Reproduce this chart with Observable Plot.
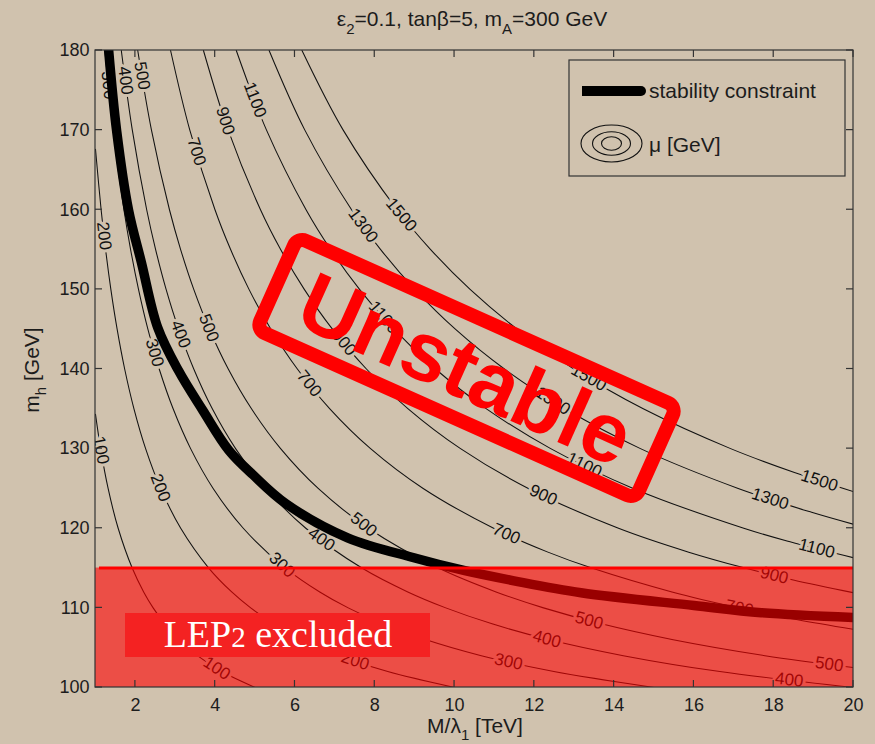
<!DOCTYPE html>
<html><head><meta charset="utf-8">
<script src="https://cdn.jsdelivr.net/npm/d3@7"></script>
<script src="https://cdn.jsdelivr.net/npm/@observablehq/plot@0.6"></script>
<style>html,body{margin:0;padding:0;background:#D0C2AE;overflow:hidden;} svg{display:block;}</style>
</head><body>
<script>
// ---- data ----
const levels = [100, 200, 300, 400, 500, 700, 900, 1100, 1300, 1500];
// contour polylines: [M/λ1 (TeV), m_h (GeV)]
const contour100 = [[1.000,134.3],[1.128,130],[1.316,125],[1.568,120],[1.920,115],[2.207,112],[2.445,110],[2.735,108],[3.096,106],[3.556,104],[4.163,102],[5.000,100]];
const contour200 = [[1.000,167.6],[1.141,160],[1.253,155],[1.385,150],[1.542,145],[1.731,140],[1.964,135],[2.256,130],[2.633,125],[3.136,120],[3.839,115],[4.414,112],[4.890,110],[5.470,108],[6.192,106],[7.112,104],[8.326,102],[10.00,100]];
const contour300 = [[1.235,180],[1.442,170],[1.712,160],[1.880,155],[2.078,150],[2.313,145],[2.597,140],[2.946,135],[3.384,130],[3.949,125],[4.704,120],[5.759,115],[6.621,112],[7.335,110],[8.206,108],[9.288,106],[10.67,104],[12.49,102],[15.00,100]];
const contour400 = [[1.647,180],[1.923,170],[2.283,160],[2.507,155],[2.770,150],[3.084,145],[3.463,140],[3.928,135],[4.512,130],[5.265,125],[6.272,120],[7.679,115],[8.828,112],[9.780,110],[10.94,108],[12.38,106],[14.23,104],[16.65,102],[20.00,100]];
const contour500 = [[2.059,180],[2.403,170],[2.854,160],[3.134,155],[3.463,150],[3.855,145],[4.328,140],[4.910,135],[5.640,130],[6.582,125],[7.839,120],[9.599,115],[11.04,112],[12.23,110],[13.68,108],[15.48,106],[17.78,104],[20.00,102.5]];
const contour700 = [[2.882,180],[3.364,170],[3.995,160],[4.387,155],[4.848,150],[5.397,145],[6.060,140],[6.874,135],[7.895,130],[9.214,125],[10.98,120],[12.34,117],[13.44,115],[15.45,112],[17.12,110],[18.60,108.5],[20.00,107.3]];
const contour900 = [[3.706,180],[4.326,170],[5.136,160],[5.641,155],[6.234,150],[6.939,145],[7.791,140],[8.837,135],[10.15,130],[11.85,125],[14.11,120],[15.87,117],[17.28,115],[18.49,113.5],[20.00,111.9]];
const contour1100 = [[4.529,180],[5.287,170],[6.278,160],[6.894,155],[7.619,150],[8.481,145],[9.522,140],[10.80,135],[12.41,130],[14.48,125],[17.25,120],[18.41,118.3],[20.00,116.3]];
const contour1300 = [[5.352,180],[6.248,170],[7.419,160],[8.148,155],[9.004,150],[10.02,145],[11.25,140],[12.77,135],[14.66,130],[17.11,125],[18.95,122],[20.00,120.5]];
const contour1500 = [[6.176,180],[7.209,170],[8.561,160],[9.401,155],[10.39,150],[11.57,145],[12.99,140],[14.73,135],[16.92,130],[18.52,127],[20.00,124.6]];
const contours = {100: contour100, 200: contour200, 300: contour300, 400: contour400, 500: contour500,
  700: contour700, 900: contour900, 1100: contour1100, 1300: contour1300, 1500: contour1500};
// stability constraint
const stability = [[1.33,180],[1.53,169.9],[1.83,159.9],[2.15,153.4],[2.56,145.2],[3.08,139.8],[3.69,134.8],[4.34,129.8],[4.95,126.7],[5.77,123.1],[7.32,118.8],[8.98,116.3],[10.23,114.7],[11.49,113.4],[13.17,111.9],[16.0,110.3],[17.69,109.4],[20.0,108.8]];
// contour label spots: [level, M/λ1, m_h]
const labelSpots = [
  [100,1.13,129.8],[100,4.04,102.4],
  [200,1.2,156.7],[200,2.58,125],[200,7.5,103.2],
  [300,1.25,175.6],[300,2.46,142],[300,5.64,115.2],[300,11.36,103.4],
  [400,1.73,176.2],[400,3.1,144.3],[400,6.65,118.5],[400,12.32,106.2],[400,18.39,100.9],
  [500,2.13,176.8],[500,3.81,145.1],[500,7.7,120.3],[500,13.37,108.4],[500,19.39,102.9],
  [700,3.48,167.2],[700,6.29,137.9],[700,11.29,119.2],[700,17.14,109.9],
  [900,4.21,171.1],[900,7.22,143.3],[900,12.22,124.1],[900,18.01,114],
  [1100,4.94,173.7],[1100,8.23,146.5],[1100,13.25,127.9],[1100,19.07,117.3],
  [1300,7.7,158],[1300,12.42,135.7],[1300,17.89,123.4],
  [1500,8.65,159.3],[1500,13.35,138.8],[1500,19.19,126.7]
];
const xTicks = [2, 4, 6, 8, 10, 12, 14, 16, 18, 20];
const yTicks = [100, 110, 120, 130, 140, 150, 160, 170, 180];
const lepLimit = 115;

// ---- layout / style ----
const bg = "#D0C2AE";
const W = 875, H = 744, mL = 95, mR = 22, mT = 50, mB = 57;
const xs = d3.scaleLinear([1, 20], [mL, W - mR]);
const ys = d3.scaleLinear([100, 180], [H - mB, mT]);
const sans = "'Liberation Sans', Arial, Helvetica, sans-serif";

const lineRows = levels.flatMap(l => contours[l].map(([x, y]) => ({level: l, x, y})));
const labelRows = labelSpots.map(([l, x, y]) => {
  const pts = contours[l].map(([a, b]) => [xs(a), ys(b)]);
  const px = xs(x), py = ys(y);
  let best = null;
  for (let i = 0; i < pts.length - 1; i++) {
    const [x0, y0] = pts[i], [x1, y1] = pts[i + 1];
    const dx = x1 - x0, dy = y1 - y0, L2 = dx * dx + dy * dy;
    let t = ((px - x0) * dx + (py - y0) * dy) / L2;
    t = Math.max(0, Math.min(1, t));
    const qx = x0 + t * dx, qy = y0 + t * dy, d = (qx - px) ** 2 + (qy - py) ** 2;
    if (!best || d < best.d) best = {d, qx, qy, ang: Math.atan2(dy, dx) * 180 / Math.PI};
  }
  let a = best.ang; if (a > 90) a -= 180; if (a < -90) a += 180;
  return {x: xs.invert(best.qx), y: ys.invert(best.qy), rotate: a, text: String(l)};
});

const plot = Plot.plot({
  width: W, height: H, marginLeft: mL, marginRight: mR, marginTop: mT, marginBottom: mB,
  x: {domain: [1, 20]}, y: {domain: [100, 180]},
  style: {background: bg, fontFamily: sans, color: "#1c1c1c"},
  marks: [
    Plot.line(lineRows, {x: "x", y: "y", z: "level", stroke: "#111", strokeWidth: 1.05, curve: "catmull-rom", clip: true}),
    Plot.text(labelRows, {x: "x", y: "y", text: "text", rotate: "rotate", fontSize: 17, fill: "#111",
      stroke: bg, strokeWidth: 6, paintOrder: "stroke", clip: true}),
    Plot.line(stability, {x: d => d[0], y: d => d[1], stroke: "#000", strokeWidth: 9.5, strokeLinejoin: "round", curve: "catmull-rom", clip: true}),
    Plot.rect([{x1: 1, x2: 20, y1: 100, y2: lepLimit}], {x1: "x1", x2: "x2", y1: "y1", y2: "y2", fill: "#ff0000", fillOpacity: 0.6}),
    Plot.ruleY([lepLimit], {x1: 1.1, x2: 20, stroke: "#ff0000", strokeWidth: 3}),
    Plot.axisX({ticks: xTicks, tickSize: 0, tickPadding: 11, fontSize: 18, label: null}),
    Plot.axisY({ticks: yTicks, tickSize: 0, tickPadding: 6, fontSize: 18, label: null})
  ]
});
document.body.appendChild(plot);

const svg = d3.select(plot);
// LEP2 box
svg.append("rect").attr("x", 125).attr("y", 613).attr("width", 305).attr("height", 44).attr("fill", "#F42222");
const lt = svg.append("text").attr("x", 278).attr("y", 647).attr("text-anchor", "middle")
  .attr("font-family", "'Liberation Serif', 'DejaVu Serif', serif").attr("font-size", 38).attr("fill", "#fff");
lt.append("tspan").text("LEP");
lt.append("tspan").attr("font-size", 29).text("2");
lt.append("tspan").text(" excluded");

// frame + inward ticks
svg.append("rect").attr("x", mL).attr("y", mT).attr("width", W - mL - mR).attr("height", H - mT - mB)
  .attr("fill", "none").attr("stroke", "#333").attr("stroke-width", 1.2);
const tk = 7, g = svg.append("g").attr("stroke", "#333").attr("stroke-width", 1.2);
xTicks.forEach(t => {
  g.append("line").attr("x1", xs(t)).attr("x2", xs(t)).attr("y1", H - mB).attr("y2", H - mB - tk);
  g.append("line").attr("x1", xs(t)).attr("x2", xs(t)).attr("y1", mT).attr("y2", mT + tk);
});
yTicks.forEach(t => {
  g.append("line").attr("x1", mL).attr("x2", mL + tk).attr("y1", ys(t)).attr("y2", ys(t));
  g.append("line").attr("x1", W - mR).attr("x2", W - mR - tk).attr("y1", ys(t)).attr("y2", ys(t));
});

// title
const title = svg.append("text").attr("x", 472).attr("y", 26).attr("text-anchor", "middle")
  .attr("font-family", sans).attr("font-size", 21).attr("fill", "#1c1c1c");
title.append("tspan").text("ε");
title.append("tspan").attr("font-size", 15).attr("dy", 8).text("2");
title.append("tspan").attr("dy", -8).text("=0.1, tanβ=5, m");
title.append("tspan").attr("font-size", 15).attr("dy", 8).text("A");
title.append("tspan").attr("dy", -8).text("=300 GeV");

// axis labels
const xl = svg.append("text").attr("x", 475).attr("y", 733).attr("text-anchor", "middle")
  .attr("font-family", sans).attr("font-size", 21).attr("fill", "#1c1c1c");
xl.append("tspan").text("M/λ");
xl.append("tspan").attr("font-size", 15).attr("dy", 7).text("1");
xl.append("tspan").attr("dy", -7).text(" [TeV]");
const yl = svg.append("text").attr("transform", "translate(39,370) rotate(-90)").attr("text-anchor", "middle")
  .attr("font-family", sans).attr("font-size", 21).attr("fill", "#1c1c1c");
yl.append("tspan").text("m");
yl.append("tspan").attr("font-size", 15).attr("dy", 7).text("h");
yl.append("tspan").attr("dy", -7).text(" [GeV]");

// legend
const lg = svg.append("g");
lg.append("rect").attr("x", 569).attr("y", 60).attr("width", 276).attr("height", 116)
  .attr("fill", bg).attr("stroke", "#333").attr("stroke-width", 1.2);
lg.append("line").attr("x1", 582).attr("x2", 641).attr("y1", 91).attr("y2", 91).attr("stroke", "#000").attr("stroke-width", 10);
lg.append("circle").attr("cx", 641).attr("cy", 91).attr("r", 5).attr("fill", "#000");
lg.append("text").attr("x", 649).attr("y", 98).attr("text-anchor", "start").attr("font-family", sans)
  .attr("font-size", 21).attr("fill", "#1c1c1c").text("stability constraint");
[[30.5, 18.5], [19, 11.7], [10, 6.7]].forEach(([rx, ry]) =>
  lg.append("ellipse").attr("cx", 611.5).attr("cy", 143.5).attr("rx", rx).attr("ry", ry)
    .attr("fill", "none").attr("stroke", "#111").attr("stroke-width", 1.1));
lg.append("text").attr("x", 649).attr("y", 152).attr("text-anchor", "start").attr("font-family", sans)
  .attr("font-size", 21).attr("fill", "#1c1c1c").text("μ [GeV]");

// "Unstable" stamp
const st = svg.append("g").attr("transform", "translate(466.5,368) rotate(24.1)");
st.append("rect").attr("x", -207.5).attr("y", -50.5).attr("width", 415).attr("height", 101).attr("rx", 9)
  .attr("fill", "none").attr("stroke", "#ff0000").attr("stroke-width", 14);
st.append("text").attr("text-anchor", "middle").attr("dy", "0.36em").attr("font-family", sans)
  .attr("font-size", 84).attr("font-weight", "bold").attr("fill", "#ff0000").text("Unstable");
</script>
</body></html>
